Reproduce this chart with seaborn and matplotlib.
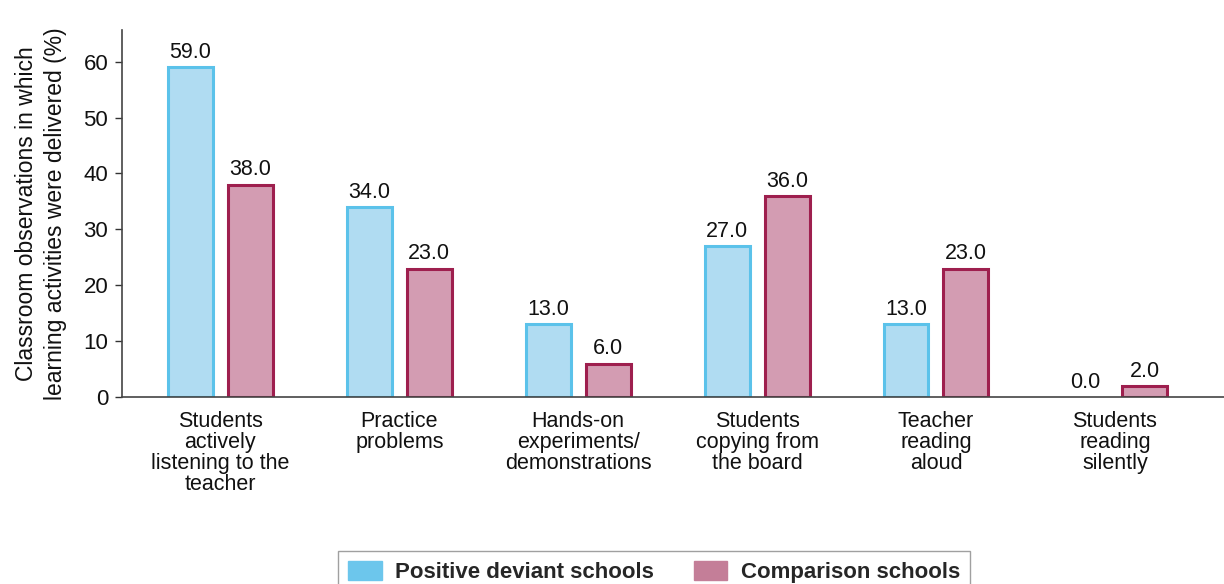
import matplotlib
matplotlib.use("Agg")
import matplotlib.pyplot as plt
import matplotlib.patches as mpatches
import pandas as pd
import seaborn as sns

categories = [
    "Students\nactively\nlistening to the\nteacher",
    "Practice\nproblems",
    "Hands-on\nexperiments/\ndemonstrations",
    "Students\ncopying from\nthe board",
    "Teacher\nreading\naloud",
    "Students\nreading\nsilently",
]
positive_deviant = [59.0, 34.0, 13.0, 27.0, 13.0, 0.0]
comparison = [38.0, 23.0, 6.0, 36.0, 23.0, 2.0]
series_names = ["Positive deviant schools", "Comparison schools"]
y_ticks = [0, 10, 20, 30, 40, 50, 60]

fill_colors = ["#b0dcf2", "#d39cb2"]
edge_colors = ["#5bc2ea", "#9e1f4e"]
legend_colors = ["#6cc6ec", "#c47e98"]

df = pd.DataFrame({
    "activity": categories * 2,
    "value": positive_deviant + comparison,
    "school": [series_names[0]] * len(categories) + [series_names[1]] * len(categories),
})

sns.set_theme(style="white")
plt.rcParams["font.family"] = ["Liberation Sans", "DejaVu Sans"]

fig = plt.figure(figsize=(12.24, 5.84), dpi=100)
ax = fig.add_axes([0.0997, 0.320, 0.9003, 0.629])

sns.barplot(
    data=df, x="activity", y="value", hue="school",
    order=categories, hue_order=series_names,
    palette=fill_colors, saturation=1, width=0.67, gap=0.25,
    ax=ax, legend=False, errorbar=None,
)

for cont, ec in zip(ax.containers, edge_colors):
    for bar in cont:
        h = bar.get_height()
        bar.set_edgecolor(ec)
        bar.set_linewidth(2.2 if h > 0 else 0)
    ax.bar_label(cont, fmt="%.1f", padding=3, fontsize=15.5, color="#111111")

ax.set_ylim(0, 65.7)
ax.set_xlim(-0.55, 5.61)
ax.set_yticks(y_ticks)
ax.tick_params(axis="y", which="both", left=True, length=5, width=1,
               color="#333333", labelsize=16, pad=5, labelcolor="#111111")
ax.tick_params(axis="x", bottom=False, labelsize=15.5, pad=4, labelcolor="#111111")
for lbl in ax.get_xticklabels():
    lbl.set_linespacing(1.0)

ax.set_xlabel("")
ax.set_ylabel("Classroom observations in which\nlearning activities were delivered (%)",
              fontsize=16.5, color="#111111", labelpad=12, linespacing=1.3)

for side in ["top", "right"]:
    ax.spines[side].set_visible(False)
for side in ["left", "bottom"]:
    ax.spines[side].set_color("#444444")
    ax.spines[side].set_linewidth(1.2)

handles = [mpatches.Patch(facecolor=fc, edgecolor=fc, label=name)
           for fc, name in zip(legend_colors, series_names)]
leg = fig.legend(
    handles=handles, loc="lower center", bbox_to_anchor=(0.5345, -0.035),
    ncol=2, frameon=True, fancybox=False, edgecolor="#888888",
    prop={"family": ["Liberation Sans Narrow", "Liberation Sans", "DejaVu Sans"],
          "weight": "bold", "size": 16},
    handlelength=1.5, handleheight=0.9, columnspacing=1.8, handletextpad=0.6,
    borderpad=0.45,
)
leg.get_frame().set_linewidth(1.0)

fig.savefig("out.png", dpi=100)
